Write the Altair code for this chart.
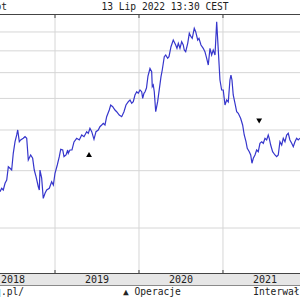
import altair as alt
import pandas as pd

# ---- data (decimal year, price) ----
t_vals = [2018.345, 2018.365, 2018.384, 2018.405, 2018.425, 2018.444, 2018.464, 2018.484, 2018.503, 2018.524,
          2018.544, 2018.556, 2018.575, 2018.591, 2018.622, 2018.643, 2018.663, 2018.682, 2018.710, 2018.734,
          2018.753, 2018.774, 2018.801, 2018.813, 2018.821, 2018.841, 2018.860, 2018.881, 2018.901, 2018.932,
          2018.960, 2018.980, 2019.000, 2019.027, 2019.051, 2019.068, 2019.092, 2019.107, 2019.131, 2019.151,
          2019.158, 2019.178, 2019.202, 2019.226, 2019.258, 2019.289, 2019.318, 2019.345, 2019.377, 2019.396,
          2019.416, 2019.437, 2019.464, 2019.488, 2019.515, 2019.535, 2019.556, 2019.575, 2019.595, 2019.615,
          2019.646, 2019.663, 2019.687, 2019.714, 2019.734, 2019.765, 2019.794, 2019.821, 2019.845, 2019.873,
          2019.893, 2019.913, 2019.932, 2019.952, 2019.973, 2019.991, 2020.012, 2020.032, 2020.044, 2020.059,
          2020.071, 2020.089, 2020.107, 2020.131, 2020.151, 2020.158, 2020.170, 2020.182, 2020.199, 2020.222,
          2020.238, 2020.262, 2020.277, 2020.301, 2020.318, 2020.341, 2020.357, 2020.381, 2020.408, 2020.437,
          2020.452, 2020.468, 2020.488, 2020.508, 2020.527, 2020.539, 2020.556, 2020.580, 2020.599, 2020.619,
          2020.634, 2020.658, 2020.675, 2020.699, 2020.714, 2020.738, 2020.765, 2020.785, 2020.806, 2020.825,
          2020.845, 2020.865, 2020.884, 2020.905, 2020.925, 2020.944, 2020.964, 2020.984, 2021.003, 2021.024,
          2021.044, 2021.063, 2021.083, 2021.095, 2021.107, 2021.122, 2021.143, 2021.163, 2021.182, 2021.210,
          2021.234, 2021.253, 2021.274, 2021.289, 2021.313, 2021.330, 2021.345, 2021.361, 2021.381, 2021.401,
          2021.420, 2021.440, 2021.461, 2021.480, 2021.500, 2021.520, 2021.539, 2021.551, 2021.568, 2021.591,
          2021.619, 2021.639, 2021.658, 2021.678, 2021.699, 2021.718, 2021.738, 2021.758, 2021.777, 2021.797,
          2021.818, 2021.837, 2021.857, 2021.877, 2021.896, 2021.917]
price = [25.85, 26.48, 26.17, 27.44, 28.08, 30.85, 30.51, 30.14, 33.92, 36.82,
         38.61, 40.00, 36.82, 37.27, 37.72, 38.15, 37.72, 32.35, 33.52, 32.74,
         30.14, 28.75, 26.78, 26.17, 30.14, 28.48, 24.67, 25.56, 26.17, 26.48,
         27.75, 27.11, 29.45, 31.23, 33.11, 34.89, 34.72, 33.11, 33.52, 34.72,
         33.92, 34.72, 34.72, 36.75, 37.72, 37.27, 38.61, 38.15, 39.52, 39.07,
         40.48, 39.52, 37.45, 39.52, 40.00, 40.94, 41.44, 41.94, 41.44, 43.94,
         46.07, 47.73, 47.16, 46.07, 45.52, 44.47, 43.94, 45.52, 47.73, 48.86,
         49.45, 48.31, 48.86, 51.23, 52.44, 51.85, 53.08, 52.44, 50.05, 51.85,
         52.33, 53.83, 58.60, 61.79, 60.41, 54.33, 54.98, 52.44, 45.52, 48.86,
         52.44, 58.31, 61.14, 67.17, 67.98, 66.41, 67.17, 72.09, 75.59, 72.96,
         71.28, 73.84, 71.28, 74.68, 72.96, 70.42, 69.58, 73.84, 79.25, 77.37,
         76.51, 82.11, 80.16, 75.59, 76.51, 72.96, 71.28, 69.58, 66.41, 63.34,
         71.28, 67.98, 70.42, 67.98, 86.04, 70.42, 56.96, 53.08, 53.08, 47.73,
         49.45, 48.76, 56.96, 59.01, 56.96, 51.23, 48.31, 45.52, 45.01, 43.45,
         41.44, 38.61, 36.82, 35.14, 34.31, 33.52, 31.61, 32.74, 33.52, 34.72,
         34.31, 36.41, 36.82, 36.41, 37.72, 37.27, 38.61, 37.72, 35.97, 34.31,
         33.52, 33.11, 33.52, 36.82, 35.97, 37.72, 36.82, 38.61, 39.07, 37.27,
         36.41, 35.54, 36.82, 37.72, 37.27, 37.72]

op_t = [2019.405, 2021.431]
op_price = [33.63, 42.62]
op_shape = ["triangle-up", "triangle-down"]

grid_years = [2019, 2020, 2021]
year_labels = ["2018", "2019", "2020", "2021"]
year_label_pos = [2018.5, 2019.5, 2020.5, 2021.5]
price_grid = [20, 30, 40, 50, 60, 70, 80]

top_text = "13 Lip 2022 13:30 CEST"
left_top_text = "ot"
source_text = "stooq.pl/"
legend_text = "▲ Operacje"
interval_text = "Interwał"

X_DOMAIN = [2018.345, 2021.917]
Y_DOMAIN = [14.55, 90.84]
W, H = 300, 259
FONT = "DejaVu Sans Mono"
TXT = "#222222"
GRID = "#d6d6d6"

line_df = pd.DataFrame({"t": t_vals, "p": price})
op_df = pd.DataFrame({"t": op_t, "p": op_price, "s": op_shape})
grid_df = pd.DataFrame({"t": grid_years})
pgrid_df = pd.DataFrame({"p": price_grid})
ylab_df = pd.DataFrame({"t": year_label_pos, "label": year_labels})

xs = alt.Scale(domain=X_DOMAIN, nice=False, zero=False)
ys = alt.Scale(type="log", domain=Y_DOMAIN, nice=False)

one = pd.DataFrame({"a": [0]})

band = alt.Chart(one).mark_rect(color="#e6e6e6").encode(
    x=alt.value(0), x2=alt.value(W), y=alt.value(H), y2=alt.value(H + 12))

vgrid = alt.Chart(grid_df).mark_rule(color=GRID, strokeWidth=1).encode(
    x=alt.X("t:Q", scale=xs, axis=None), y=alt.value(0), y2=alt.value(H))

hgrid = alt.Chart(pgrid_df).mark_rule(color=GRID, strokeWidth=1).encode(
    y=alt.Y("p:Q", scale=ys, axis=None), x=alt.value(0), x2=alt.value(W))

line = alt.Chart(line_df).mark_line(color="#3636cc", strokeWidth=1.2, clip=True).encode(
    x=alt.X("t:Q", scale=xs, axis=None),
    y=alt.Y("p:Q", scale=ys, axis=None),
)

ops = alt.Chart(op_df).mark_point(filled=True, color="#000000", size=34, opacity=1).encode(
    x=alt.X("t:Q", scale=xs, axis=None),
    y=alt.Y("p:Q", scale=ys, axis=None),
    shape=alt.Shape("s:N", scale=alt.Scale(domain=op_shape, range=op_shape), legend=None),
)

frame_top = alt.Chart(one).mark_rule(color="#444444", strokeWidth=1).encode(
    x=alt.value(0), x2=alt.value(W), y=alt.value(0.5))
frame_bot = alt.Chart(one).mark_rule(color="#444444", strokeWidth=1).encode(
    x=alt.value(0), x2=alt.value(W), y=alt.value(H + 0.5))
band_bot = alt.Chart(one).mark_rule(color="#8a8a8a", strokeWidth=1).encode(
    x=alt.value(0), x2=alt.value(W), y=alt.value(H + 12.5))

ticks_top = alt.Chart(grid_df).mark_rule(color="#444444", strokeWidth=1).encode(
    x=alt.X("t:Q", scale=xs, axis=None), y=alt.value(0), y2=alt.value(4))
ticks_bot = alt.Chart(grid_df).mark_rule(color="#444444", strokeWidth=1).encode(
    x=alt.X("t:Q", scale=xs, axis=None), y=alt.value(H - 3), y2=alt.value(H))

year_txt = alt.Chart(ylab_df).mark_text(font=FONT, fontSize=10, color=TXT, baseline="middle", align="center").encode(
    x=alt.X("t:Q", scale=xs, axis=None), y=alt.value(H + 6.5), text="label:N")

def label(txt, x, y, align):
    return alt.Chart(pd.DataFrame({"label": [txt]})).mark_text(
        font=FONT, fontSize=9.6, color=TXT, baseline="alphabetic", align=align).encode(
        x=alt.value(x), y=alt.value(y), text="label:N")

t_top = label(top_text, 165, -4, "center")
t_left = label(left_top_text, -4.5, -4, "left")
t_src = label(source_text, 24, 281, "right")
t_leg = label(legend_text, 123, 281, "left")
t_int = label(interval_text, 299.5, 281, "right")

chart = alt.layer(band, vgrid, hgrid, line, ops, frame_top, frame_bot, band_bot, ticks_top, ticks_bot,
                  year_txt, t_top, t_left, t_src, t_leg, t_int).properties(
    width=W, height=H,
    autosize=alt.AutoSizeParams(type="none"),
    padding={"left": 0, "right": 0, "top": 14, "bottom": 27},
    background="#ffffff",
).configure_view(strokeWidth=0)

chart.save("out.html", embed_options={"renderer": "svg", "actions": False})
